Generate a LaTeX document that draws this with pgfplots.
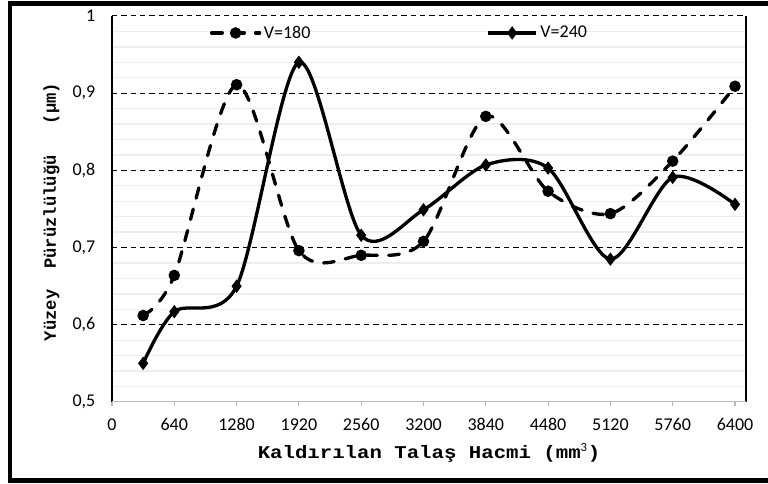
\documentclass[border=0pt]{standalone}
\usepackage{fontspec}
\setmainfont{Carlito}
\newfontfamily\ylabfont{Liberation Mono}
\newfontfamily\xlabfont{Liberation Mono}[FakeStretch=1.15]
\usepackage{pgfplots}
\pgfplotsset{compat=1.18}

\pgfplotstableread{
x y
320 0.612
640 0.664
1280 0.911
1920 0.696
2560 0.690
3200 0.708
3840 0.870
4480 0.773
5120 0.744
5760 0.812
6400 0.909
}\vonefeighty

\pgfplotstableread{
x y
320 0.550
640 0.617
1280 0.650
1920 0.940
2560 0.716
3200 0.749
3840 0.807
4480 0.803
5120 0.685
5760 0.791
6400 0.756
}\vtwoforty

\begin{document}
\begin{tikzpicture}
\useasboundingbox (0,0) rectangle (576pt,363pt);
\begin{axis}[
  at={(84pt,61.5pt)}, anchor=south west,
  scale only axis, width=475.5pt, height=289.5pt,
  xmin=0, xmax=6513, ymin=0.5, ymax=1,
  xtick={0,640,1280,1920,2560,3200,3840,4480,5120,5760,6400},
  ytick={0.5,0.6,0.7,0.8,0.9,1},
  scaled x ticks=false,
  /pgf/number format/.cd, use comma, 1000 sep={}, assume math mode=true,
  /pgfplots/.cd,
  tick label style={font=\fontsize{13.5}{16}\selectfont},
  yticklabel style={xshift=-6pt},
  xticklabel style={yshift=-6pt},
  tick align=outside,
  major tick length=3pt,
  xtick pos=bottom,
  xtick style={gray!55, line width=0.8pt},
  ytick style={draw=none},
  minor y tick num=4,
  yminorgrids=true,
  minor grid style={gray!13, line width=1pt},
  extra y ticks={0.6,0.7,0.8,0.9,1},
  extra y tick labels={},
  extra y tick style={grid=major, ytick style={draw=none}},
  major grid style={black, line width=0.75pt, dash pattern=on 4pt off 3pt},
  separate axis lines,
  x axis line style={draw=none},
  y axis line style={black, line width=0.8pt},
  xlabel={\xlabfont\bfseries\fontsize{13.5}{16}\selectfont Kaldırılan Talaş Hacmi (mm{\rmfamily\mdseries\textsuperscript{3}})},
  ylabel={\ylabfont\bfseries\fontsize{12.9}{15}\selectfont Yüzey\ \ Pürüzlülüğü\ \ \ (µm)},
  xlabel style={at={(axis description cs:0.5,0)}, anchor=center, yshift=-38pt},
  ylabel style={at={(axis description cs:0,0.5)}, anchor=center, yshift=45.4pt, xshift=-2.25pt},
  legend columns=2,
  legend style={draw=none, fill=none, at={(0.454,0.956)}, anchor=center,
    font=\fontsize{13.5}{16}\selectfont,
    /tikz/every even column/.append style={column sep=130pt}},
  legend image code/.code={\draw[mark repeat=2, mark phase=2, #1] plot coordinates {(0pt,0pt) (18pt,0pt) (36pt,0pt)};},
]
\draw[gray!55, line width=1pt] (rel axis cs:0,0) -- (rel axis cs:1,0);
\addplot[black, line width=2.5pt, line cap=round, dash pattern=on 8pt off 8.5pt,
  smooth, tension=0.5, mark=*, mark size=3pt, mark options={solid}]
  table[x=x, y=y] {\vonefeighty};
\addlegendentry{V=180}
\addplot[black, line width=2.5pt, smooth, tension=0.5,
  mark=diamond*, mark size=3pt, mark options={solid}]
  table[x=x, y=y] {\vtwoforty};
\addlegendentry{V=240}
\end{axis}
\draw[black, line width=3.5pt] (576pt,360.5pt) -- (7.5pt,360.5pt) -- (7.5pt,2.6pt) -- (576pt,2.6pt);
\end{tikzpicture}
\end{document}
